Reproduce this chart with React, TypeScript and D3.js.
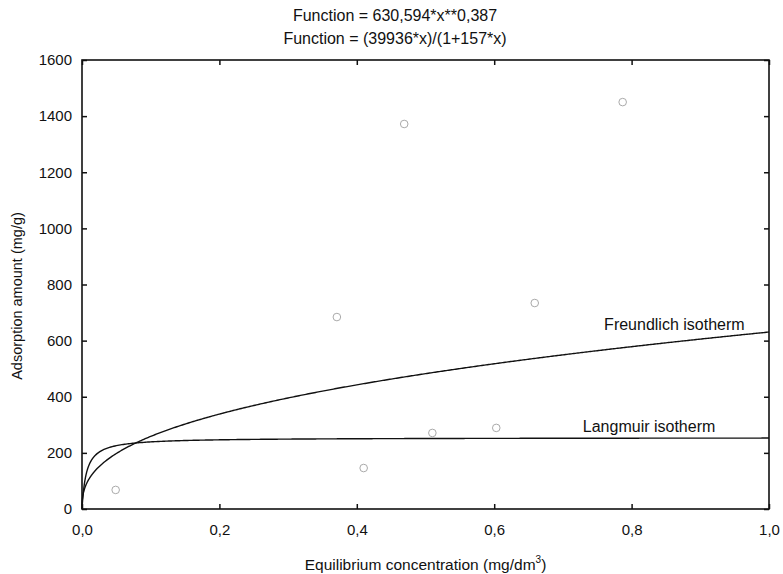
import React, { useEffect, useRef } from "react";
import * as d3 from "d3";

// measured points (equilibrium concentration, adsorption amount)
const concentration = [0.049, 0.371, 0.41, 0.469, 0.51, 0.603, 0.659, 0.787];
const adsorption = [68, 684, 146, 1372, 271, 289, 734, 1450];

// fitted model parameters, as printed in the title
const freundlichK = 630.594;
const freundlichN = 0.387;
const langmuirA = 39936;
const langmuirB = 157;

const xTicks = [0, 0.2, 0.4, 0.6, 0.8, 1.0];
const yTicks = [0, 200, 400, 600, 800, 1000, 1200, 1400, 1600];

const titleLines = [
  "Function = 630,594*x**0,387",
  "Function = (39936*x)/(1+157*x)",
];

const App = () => {
  const ref = useRef<SVGSVGElement | null>(null);

  useEffect(() => {
    const width = 783,
      height = 574;
    const margin = { top: 60, right: 14, bottom: 65, left: 82 };
    const w = width - margin.left - margin.right,
      h = height - margin.top - margin.bottom;

    const root = d3.select(ref.current);
    root.selectAll("*").remove();
    const font = "'Liberation Sans', Arial, sans-serif";

    const svg = root
      .append("g")
      .attr("transform", `translate(${margin.left},${margin.top})`);

    const x = d3.scaleLinear().domain([0, 1]).range([0, w]);
    const y = d3.scaleLinear().domain([0, 1600]).range([h, 0]);

    const fmt = (v: number) => d3.format(".1f")(v).replace(".", ",");

    // bottom axis with labels, ticks point inward
    const gx = svg
      .append("g")
      .attr("transform", `translate(0,${h})`)
      .call(d3.axisBottom(x).tickValues(xTicks).tickFormat(fmt as any).tickSize(-5).tickPadding(15));
    const gxTop = svg
      .append("g")
      .call(d3.axisTop(x).tickValues(xTicks).tickFormat(() => "").tickSize(-5));
    const gy = svg
      .append("g")
      .call(d3.axisLeft(y).tickValues(yTicks).tickFormat(d3.format("d") as any).tickSize(-5).tickPadding(10));
    const gyRight = svg
      .append("g")
      .attr("transform", `translate(${w},0)`)
      .call(d3.axisRight(y).tickValues(yTicks).tickFormat(() => "").tickSize(-5));

    [gx, gxTop, gy, gyRight].forEach((g) => {
      g.select(".domain").remove();
      g.selectAll(".tick line").attr("stroke", "#111").attr("stroke-width", 1.5);
      g.selectAll(".tick text")
        .attr("font-family", font)
        .attr("font-size", 15)
        .attr("fill", "#111");
    });

    // frame
    svg
      .append("rect")
      .attr("x", 0)
      .attr("y", 0)
      .attr("width", w)
      .attr("height", h)
      .attr("fill", "none")
      .attr("stroke", "#111")
      .attr("stroke-width", 1.6);

    // curves from the fitted equations
    const xs = [
      ...d3.range(0, 0.02, 0.0002),
      ...d3.range(0.02, 1.0001, 0.002),
    ];
    const line = d3
      .line<number>()
      .x((d) => x(d))
      .curve(d3.curveLinear);

    svg
      .append("path")
      .datum(xs)
      .attr("fill", "none")
      .attr("stroke", "#111")
      .attr("stroke-width", 1.4)
      .attr("d", line.y((d) => y(freundlichK * Math.pow(d, freundlichN)))(xs));

    svg
      .append("path")
      .datum(xs)
      .attr("fill", "none")
      .attr("stroke", "#111")
      .attr("stroke-width", 1.4)
      .attr("d", line.y((d) => y((langmuirA * d) / (1 + langmuirB * d)))(xs));

    // measured points
    svg
      .selectAll("circle.pt")
      .data(concentration.map((c, i) => [c, adsorption[i]]))
      .join("circle")
      .attr("class", "pt")
      .attr("cx", (d) => x(d[0]))
      .attr("cy", (d) => y(d[1]))
      .attr("r", 3.8)
      .attr("fill", "none")
      .attr("stroke", "#aaa")
      .attr("stroke-width", 1);

    // curve labels
    svg
      .append("text")
      .attr("x", x(0.76))
      .attr("y", y(0) - 179)
      .attr("font-family", font)
      .attr("font-size", 16)
      .attr("fill", "#111")
      .text("Freundlich isotherm");
    svg
      .append("text")
      .attr("x", x(0.729))
      .attr("y", y(0) - 77)
      .attr("font-family", font)
      .attr("font-size", 16)
      .attr("fill", "#111")
      .text("Langmuir isotherm");

    // title
    titleLines.forEach((t, i) => {
      root
        .append("text")
        .attr("x", 395)
        .attr("y", 21 + i * 23)
        .attr("text-anchor", "middle")
        .attr("font-family", font)
        .attr("font-size", 16)
        .attr("fill", "#111")
        .text(t);
    });

    // axis titles
    const xt = root
      .append("text")
      .attr("x", margin.left + w / 2)
      .attr("y", 570)
      .attr("text-anchor", "middle")
      .attr("font-family", font)
      .attr("font-size", 15.5)
      .attr("fill", "#111");
    xt.append("tspan").text("Equilibrium concentration (mg/dm");
    xt.append("tspan").attr("font-size", 10).attr("dy", -7).text("3");
    xt.append("tspan").attr("dy", 7).text(")");

    root
      .append("text")
      .attr("transform", "translate(22,296) rotate(-90)")
      .attr("text-anchor", "middle")
      .attr("font-family", font)
      .attr("font-size", 14.5)
      .attr("fill", "#111")
      .text("Adsorption amount (mg/g)");
  }, []);

  return (
    <svg
      ref={ref}
      width={783}
      height={574}
      style={{ position: "absolute", left: 0, top: 0, background: "#fff" }}
    />
  );
};

export default App;
